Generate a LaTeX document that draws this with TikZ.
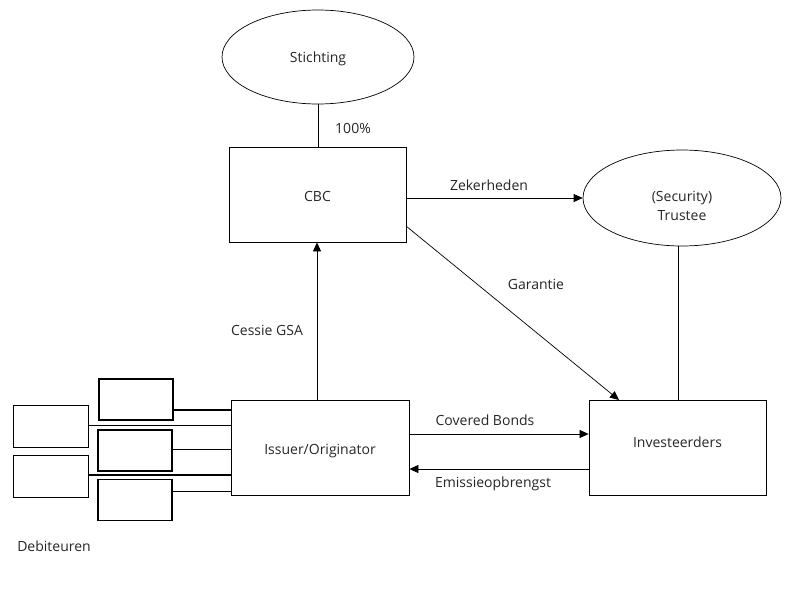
\documentclass[tikz,border=0pt]{standalone}
\usepackage{fontspec}
\setmainfont{Open Sans}
\usetikzlibrary{arrows.meta,shapes.geometric}
\begin{document}
\begin{tikzpicture}[x=1pt,y=-1pt,
  every node/.style={font=\fontsize{14}{19}\selectfont, text=black!85},
  arr/.style={-{Triangle[length=9pt,width=8pt]}, line width=0.7pt},
  ln/.style={line width=0.7pt},
  deb/.style={draw, line width=1.4pt, inner sep=0pt, minimum width=74pt, minimum height=41pt},
  debthin/.style={draw, line width=1.0pt, inner sep=0pt, minimum width=75pt, minimum height=42pt},
  lbl/.style={inner sep=0pt},
  txt/.style={label={[inner sep=0pt, align=center, yshift=#1]center:}}]
\useasboundingbox (0,0) rectangle (800,598);
\node[ellipse, draw, line width=0.7pt, minimum width=192pt, minimum height=94pt, inner sep=0pt, label={[inner sep=0pt, yshift=-2pt]center:Stichting}] (stichting) at (318,57) {};
\node[draw, line width=0.8pt, minimum width=177pt, minimum height=95pt, inner sep=0pt, label={[inner sep=0pt, yshift=-2pt]center:CBC}] (cbc) at (317.5,194.5) {};
\node[ellipse, draw, line width=0.7pt, minimum width=198pt, minimum height=96pt, inner sep=0pt, label={[inner sep=0pt, align=center, yshift=-8pt]center:(Security)\\Trustee}] (trustee) at (682,198) {};
\node[draw, line width=0.8pt, minimum width=178pt, minimum height=95pt, inner sep=0pt, label={[inner sep=0pt, yshift=-4pt]center:Issuer/Originator}] (issuer) at (320,447.5) {};
\node[draw, line width=0.8pt, minimum width=177pt, minimum height=95pt, inner sep=0pt, label={[inner sep=0pt, yshift=5pt]center:Investeerders}] (invest) at (677.5,447.5) {};
% debiteuren
\node[deb] (d1) at (136,399.5) {};
\node[debthin] (d2) at (50.5,426) {};
\node[deb] (d3) at (135,450.5) {};
\node[debthin] (d4) at (50.5,476.5) {};
\node[deb] (d5) at (135,500) {};
\node[lbl] (deblbl) at (54,546) {Debiteuren};
\draw[line width=1.6pt] (d1.east |- 0,409.7) -- (issuer.west |- 0,409.7);
\draw[line width=1.1pt] (d2.east |- 0,425.7) -- (issuer.west |- 0,425.7);
\draw[line width=1.1pt] (d3.east |- 0,449.7) -- (issuer.west |- 0,449.7);
\draw[line width=1.1pt] (d4.east |- 0,475) -- (issuer.west |- 0,475);
\draw[line width=1.6pt] (d5.east |- 0,491.3) -- (issuer.west |- 0,491.3);
% connectors
\draw[ln] (stichting.south) -- (cbc.north -| stichting.south);
\node[lbl] (pct) at (353,128) {100\%};
\draw[arr] (issuer.north -| 317,0) -- (cbc.south -| 317,0);
\node[lbl] (cessie) at (267,330) {Cessie GSA};
\draw[arr] (cbc.east |- 0,198) -- (trustee.west);
\node[lbl] (zek) at (489,185) {Zekerheden};
\coordinate (gstart) at (406,226);
\coordinate (gend) at (619,400);
\draw[arr] (gstart) -- (gend);
\node[lbl] (gar) at (536,284) {Garantie};
\draw[ln] (trustee.south -| 678,0) -- (invest.north -| 678,0);
\draw[arr] (issuer.east |- 0,434) -- (invest.west |- 0,434);
\node[lbl] (cov) at (485,420) {Covered Bonds};
\draw[arr] (invest.west |- 0,469) -- (issuer.east |- 0,469);
\node[lbl] (emi) at (493,484) {Emissieopbrengst};
\end{tikzpicture}
\end{document}
